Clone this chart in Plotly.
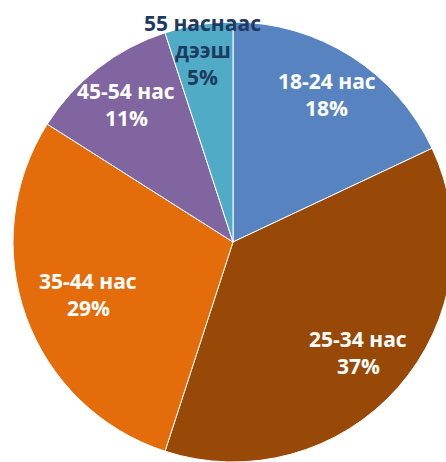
import math
import plotly.graph_objects as go

# ---- data ----
labels = ["18-24 нас", "25-34 нас", "35-44 нас", "45-54 нас", "55 наснаас<br>дээш"]
values = [18, 37, 29, 11, 5]

# ---- style ----
colors = ["#5784C1", "#984807", "#E46C0A", "#8065A1", "#4FABC6"]
text_colors = ["#FFFFFF", "#FFFFFF", "#FFFFFF", "#FFFFFF", "#1F3A60"]
label_r = [0.795, 0.76, 0.70, 0.79, 0.885]
line_gap = 27

W, H = 453, 462
cx, cy, R = 233, 242, 220

fig = go.Figure(go.Pie(
    labels=labels,
    values=values,
    sort=False,
    direction="clockwise",
    rotation=0,
    textinfo="none",
    hoverinfo="label+percent",
    marker=dict(colors=colors, line=dict(color="#FFFFFF", width=1)),
    domain=dict(x=[(cx - R) / W, (cx + R) / W], y=[1 - (cy + R) / H, 1 - (cy - R) / H]),
    showlegend=False,
))

total = sum(values)
cum = 0
annotations = []
for lab, v, tc, rf in zip(labels, values, text_colors, label_r):
    theta = 2 * math.pi * (cum + v / 2) / total
    cum += v
    xp = cx + rf * R * math.sin(theta)
    yp = cy - rf * R * math.cos(theta)
    lines = lab.split("<br>") + [f"{round(100 * v / total)}%"]
    n = len(lines)
    for k, ln in enumerate(lines):
        annotations.append(dict(
            x=xp / W, y=1 - yp / H, xref="paper", yref="paper",
            text=f"<b>{ln}</b>",
            showarrow=False, xanchor="center", yanchor="middle",
            yshift=((n - 1) / 2 - k) * line_gap,
            font=dict(family="Open Sans", size=21, color=tc),
        ))

fig.update_layout(
    width=W, height=H,
    margin=dict(l=0, r=0, t=0, b=0),
    paper_bgcolor="white",
    plot_bgcolor="white",
    annotations=annotations,
)

fig.write_html(
    "out.html",
    config={"displayModeBar": False},
    post_script="document.body.style.margin='0';document.body.style.overflow='hidden';document.documentElement.style.overflow='hidden';",
)
